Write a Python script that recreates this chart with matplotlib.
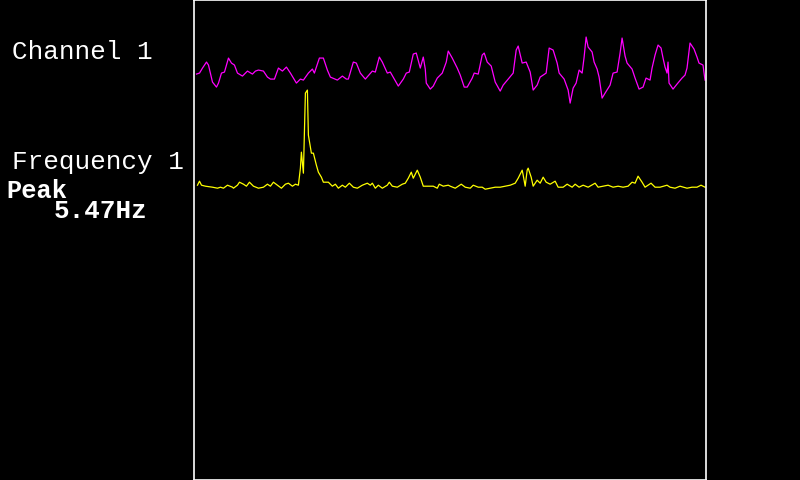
import numpy as np
import matplotlib.pyplot as plt

# channel 1 time trace: (sample index, amplitude)
channel = [(2, 0), (5, 1), (8, 6), (12, 12), (14, 9), (18, -8), (22, -13), (24, -9), (27, 1),
           (30, 2), (34, 16), (37, 11), (40, 9), (43, 1), (48, -2), (53, 3), (58, 0), (61, 3),
           (64, 4), (69, 3), (73, -3), (76, -5), (80, -5), (84, 6), (88, 3), (92, 7), (96, 1),
           (102, -9), (106, -5), (109, -6), (114, 1), (118, 5), (120, 1), (125, 16), (129, 16),
           (133, 4), (136, -3), (143, -6), (148, -2), (152, -5), (154, -5), (159, 12), (162, 11),
           (166, 1), (171, -5), (178, 3), (181, 2), (185, 17), (188, 12), (193, 1), (196, 2),
           (204, -12), (209, -5), (212, 1), (215, 2), (219, 20), (222, 21), (226, 6), (229, 17),
           (231, 5), (232, -9), (236, -15), (239, -12), (243, -4), (248, 1), (252, 12), (254, 23),
           (258, 16), (263, 6), (266, -1), (270, -13), (273, -13), (278, -4), (280, 1), (284, 0),
           (288, 19), (290, 21), (293, 12), (297, 8), (301, -8), (306, -17), (309, -11), (314, -5),
           (319, 1), (322, 24), (324, 28), (328, 11), (332, 12), (336, 2), (339, -16), (343, -11),
           (346, -3), (352, 1), (355, 26), (359, 24), (363, 11), (365, 1), (370, -5), (374, -16),
           (376, -29), (379, -14), (382, -9), (385, 4), (388, 1), (390, 17), (392, 37), (394, 27),
           (398, 22), (400, 12), (403, 5), (405, -3), (408, -24), (411, -19), (416, -11), (419, 1),
           (423, 2), (426, 21), (428, 36), (431, 18), (433, 11), (438, 5), (441, -4), (445, -15),
           (449, -13), (452, -4), (456, -6), (458, 6), (461, 19), (464, 29), (467, 26), (469, 16),
           (471, 7), (473, 1), (474, 12), (475, -9), (479, -15), (483, -10), (488, -4), (491, -1),
           (493, 6), (496, 31), (500, 25), (503, 17), (505, 11), (509, 9), (511, -6)]

# frequency 1 spectrum: (bin, magnitude)
spectrum = [(3, 3), (5, 7), (7, 3), (11, 2), (18, 1), (23, 0), (26, 1), (29, 0), (33, 3), (38, 1),
            (39, 0), (43, 3), (45, 6), (49, 4), (52, 2), (55, 6), (59, 2), (64, 0), (69, 1), (73, 4),
            (76, 2), (79, 6), (83, 3), (87, 0), (91, 4), (94, 5), (98, 2), (101, 4), (104, 3),
            (106, 20), (107, 36), (109, 15), (110, 53), (111, 95), (113, 98), (114, 53), (117, 35),
            (119, 35), (122, 23), (124, 16), (127, 11), (129, 6), (134, 6), (138, 2), (141, 4),
            (144, 0), (148, 3), (151, 1), (155, 5), (159, 1), (163, 0), (168, 3), (173, 5), (176, 3),
            (178, 5), (181, 0), (184, 3), (188, 0), (193, 3), (195, 6), (198, 2), (203, 1), (208, 4),
            (211, 5), (214, 10), (217, 16), (219, 10), (223, 18), (226, 11), (229, 2), (234, 2),
            (239, 2), (243, 0), (245, 4), (249, 2), (254, 3), (256, 2), (261, 0), (267, 4), (271, 1),
            (276, 0), (279, 3), (284, 1), (288, 1), (291, -1), (296, 0), (301, 1), (306, 1), (311, 2),
            (316, 3), (321, 5), (324, 10), (328, 18), (329, 13), (331, 2), (333, 18), (334, 20),
            (337, 11), (339, 2), (343, 8), (346, 5), (349, 11), (352, 6), (356, 4), (361, 7), (364, 1),
            (369, 1), (373, 4), (378, 1), (381, 4), (385, 1), (389, 3), (394, 1), (401, 5), (404, 1),
            (409, 2), (414, 3), (419, 1), (424, 2), (429, 1), (434, 2), (438, 6), (441, 5), (444, 12),
            (448, 6), (451, 1), (457, 5), (461, 1), (466, 1), (473, 3), (476, 1), (481, 0), (486, 2),
            (493, 0), (498, 1), (503, 1), (507, 3), (511, 1)]

peak_hz = 5.47

ch_x, ch_y = np.array(channel).T
fr_x, fr_y = np.array(spectrum).T

fig = plt.figure(figsize=(8, 4.8), dpi=100, facecolor='black')
ax = fig.add_axes([194 / 800, 0, 512 / 800, 1], facecolor='black')

# both traces stacked in one panel
ax.plot(ch_x, ch_y + 406, color='#ff00ff', lw=0.9)
ax.plot(fr_x, fr_y + 292, color='#ffff00', lw=0.9)
ax.set_xlim(-0.5, 512)
ax.set_ylim(0.5, 480)
ax.set_xticks([])
ax.set_yticks([])
for s in ax.spines.values():
    s.set_color('white')
    s.set_linewidth(1.2)

mono = ['Liberation Mono', 'DejaVu Sans Mono']
fig.text(12 / 800, 1 - 59 / 480, 'Channel 1', color='white', family=mono,
         fontsize=18.7, va='baseline')
fig.text(12 / 800, 1 - 169 / 480, 'Frequency 1', color='white', family=mono,
         fontsize=18.7, va='baseline')
fig.text(6 / 800, 1 - 198 / 480, 'Peak', color='white', family=mono,
         fontsize=18.3, fontweight='bold', va='baseline')
fig.text(54 / 800, 1 - 218 / 480, '%.2fHz' % peak_hz, color='white', family=mono,
         fontsize=18.7, fontweight='bold', va='baseline')

plt.savefig('out.png', dpi=100, facecolor='black')
